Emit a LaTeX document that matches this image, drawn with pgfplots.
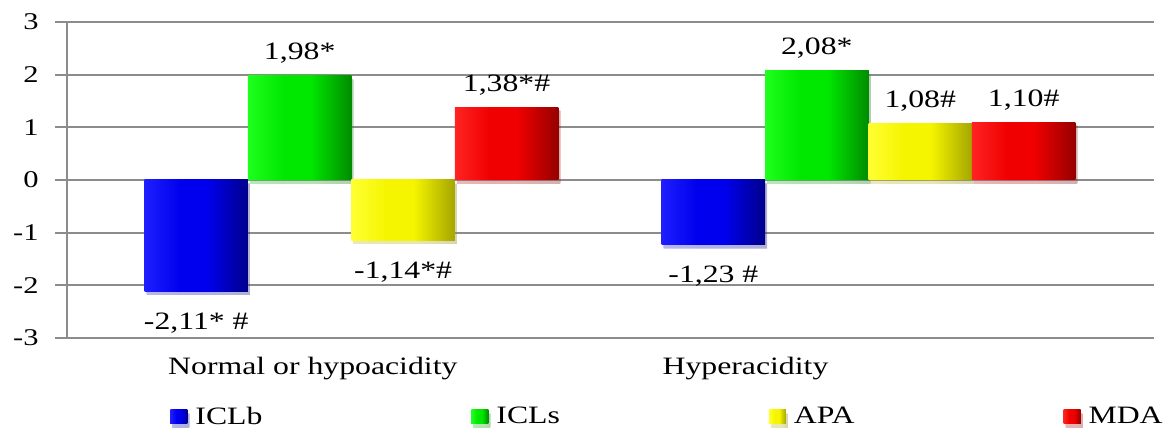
\documentclass[border=0pt]{standalone}
\usepackage{fontspec}
\setmainfont{Liberation Serif}[FakeStretch=1.27]
\usepackage{pgfplots}
\pgfplotsset{compat=1.18}
\usetikzlibrary{shadows}

\definecolor{gridgray}{RGB}{140,140,140}
% bar colours: light left edge, main face, dark right edge
\definecolor{blueL}{RGB}{30,30,255}\definecolor{blueM}{RGB}{0,0,238}\definecolor{blueD}{RGB}{0,0,140}
\definecolor{greenL}{RGB}{30,255,30}\definecolor{greenM}{RGB}{0,232,0}\definecolor{greenD}{RGB}{0,140,0}
\definecolor{yellowL}{RGB}{255,255,50}\definecolor{yellowM}{RGB}{245,245,0}\definecolor{yellowD}{RGB}{165,165,0}
\definecolor{redL}{RGB}{255,35,35}\definecolor{redM}{RGB}{240,0,0}\definecolor{redD}{RGB}{150,0,0}

\pgfdeclarehorizontalshading{blueface}{100bp}{color(0bp)=(blueL); color(25bp)=(blueL); color(42bp)=(blueM); color(55bp)=(blueM); color(75bp)=(blueD); color(100bp)=(blueD)}
\pgfdeclarehorizontalshading{greenface}{100bp}{color(0bp)=(greenL); color(25bp)=(greenL); color(42bp)=(greenM); color(55bp)=(greenM); color(75bp)=(greenD); color(100bp)=(greenD)}
\pgfdeclarehorizontalshading{yellowface}{100bp}{color(0bp)=(yellowL); color(25bp)=(yellowL); color(42bp)=(yellowM); color(55bp)=(yellowM); color(75bp)=(yellowD); color(100bp)=(yellowD)}
\pgfdeclarehorizontalshading{redface}{100bp}{color(0bp)=(redL); color(25bp)=(redL); color(42bp)=(redM); color(55bp)=(redM); color(75bp)=(redD); color(100bp)=(redD)}

\begin{document}
\begin{tikzpicture}
\useasboundingbox (0,0) rectangle (588pt,216pt);
\begin{axis}[
  at={(33.5pt,47pt)}, anchor=south west,
  scale only axis, width=543.5pt, height=158pt,
  xmin=-0.55, xmax=1.552, ymin=-3, ymax=3,
  separate axis lines,
  axis x line*=bottom, axis y line*=left,
  x axis line style={draw=none},
  y axis line style={draw=gridgray, line width=1pt, -},
  ytick={-3,-2,-1,0,1,2,3},
  yticklabels={-3,-2,-1,0,1,2,3},
  yticklabel style={font=\fontsize{12}{14}\selectfont, anchor=east, inner sep=0pt, xshift=-8pt},
  ytick style={draw=gridgray, line width=1pt},
  major tick length=6pt, tick align=outside,
  xtick={-0.355,0.601},
  xticklabels={Normal or hypoacidity, Hyperacidity},
  xticklabel style={font=\fontsize{12.5}{14}\selectfont, anchor=base west, inner sep=0pt, yshift=-12.5pt},
  xtick style={draw=none},
  ymajorgrids, grid style={draw=gridgray, line width=1pt},
  ybar, bar width=0.2, bar shift=0pt,
  point meta=explicit symbolic,
  nodes near coords={\pgfplotspointmeta},
  every node near coord/.append style={font=\fontsize{12.5}{14}\selectfont, text=black, inner sep=0pt},
  pos/.style={every node near coord/.append style={anchor=base, yshift=8pt}},
  neg/.style={every node near coord/.append style={anchor=base, yshift=-19pt}},
  legend columns=4,
  legend style={at={(0.0948,-0.25)}, anchor=west, draw=none, fill=none,
    inner xsep=0pt, inner ysep=0pt,
    font=\fontsize{12.5}{14}\selectfont,
    nodes={inner xsep=0pt},
    /tikz/every odd column/.append style={column sep=4pt},
    /tikz/every even column/.append style={column sep=104.5pt}},
  legend image code/.code={\fill[#1] (0pt,-3.5pt) rectangle (8.5pt,3.5pt);},
  bars/.style={draw=none, drop shadow={shadow xshift=1pt, shadow yshift=-1.8pt, opacity=0.22}},
  iclb/.style={bars, fill=blueM, shade, shading=blueface},
  icls/.style={bars, fill=greenM, shade, shading=greenface},
  apa/.style={bars, fill=yellowM, shade, shading=yellowface},
  mda/.style={bars, fill=redM, shade, shading=redface},
]
% Normal or hypoacidity (group centred at x = 0)
\addplot[iclb, neg] coordinates {(-0.3,-2.11) [-2,11* \#]};
\addplot[icls, pos] coordinates {(-0.1,1.98) [1,98*]};
\addplot[apa,  neg] coordinates {(0.1,-1.14) [-1,14*\#]};
\addplot[mda,  pos] coordinates {(0.3,1.38) [1,38*\#]};
\legend{ICLb, ICLs, APA, MDA}
% Hyperacidity (group centred at x = 1)
\addplot[iclb, neg, forget plot] coordinates {(0.7,-1.23) [-1,23 \#]};
\addplot[icls, pos, forget plot] coordinates {(0.9,2.08) [2,08*]};
\addplot[apa,  pos, forget plot] coordinates {(1.1,1.08) [1,08\#]};
\addplot[mda,  pos, forget plot] coordinates {(1.3,1.10) [1,10\#]};
\end{axis}
\end{tikzpicture}
\end{document}
